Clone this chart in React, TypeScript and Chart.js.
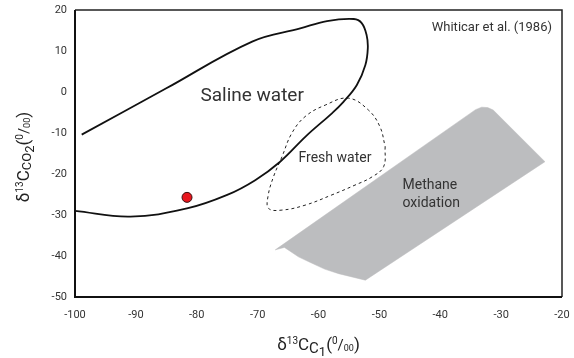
import React, { useEffect, useRef } from "react";
import { Chart, registerables } from "chart.js";

Chart.register(...registerables);

// Saline water envelope (open on the left)
const salineX = [-98.9, -85, -70.9, -63, -58.6, -54.2, -52.9, -52.1, -51.9, -52.3, -53.7, -55.9, -57.8, -62, -66.3, -70.4, -75, -81.6, -90.9, -100];
const salineY = [-10.4, 0.9, 12.3, 15.5, 17.3, 17.8, 16.8, 13.9, 10.7, 6.6, 1.7, -2.4, -5.2, -10.7, -17, -21.5, -25.1, -28.4, -30.4, -29];

// Fresh water envelope (closed, dashed)
const freshX = [-49.05, -49.3, -51.2, -54, -57.8, -62.2, -66, -68.2, -68.3, -67.4, -66, -64.4, -62.2, -58.9, -55.1, -51.8, -49.9, -49.05];
const freshY = [-13.3, -18.2, -20.7, -22.7, -25.1, -27.6, -28.8, -28.4, -25.5, -20.7, -15.8, -10.1, -6, -3.2, -1.5, -4.4, -8.5, -13.3];

// Methane oxidation field (grey polygon)
const methaneX = [-67.1, -65.6, -64.6, -63.3, -61.6, -59, -56.7, -52.3, -22.8, -31.3, -32.2, -33.2, -34.2, -67.1];
const methaneY = [-38.5, -37.9, -38.9, -40.2, -41.4, -43.2, -44.3, -45.9, -17, -4.4, -3.8, -3.7, -4.3, -38.5];

// Sample point
const sampleX = [-81.6];
const sampleY = [-25.7];

const regionLabels = ["Saline water", "Fresh water", "Methane", "oxidation"];
const regionLabelX = [-70.9, -57.3, -46.2, -46.2];
const regionLabelY = [-1.0, -16.1, -22.9, -27.2];
const sourceNote = "Whiticar et al. (1986)";

const xTickMin = -100;
const xTickMax = -20;
const yTickMin = -50;
const yTickMax = 20;
const tickStep = 10;

const zip = (xs: number[], ys: number[]) => xs.map((x, i) => ({ x, y: ys[i] }));

type Seg = { t: string; size: number; dy: number };

const xTitle: Seg[] = [
  { t: "δ", size: 17, dy: 0 },
  { t: "13", size: 10, dy: -6 },
  { t: "C", size: 17, dy: 0 },
  { t: "C", size: 15, dy: 3 },
  { t: "1", size: 13, dy: 6 },
  { t: "(", size: 17, dy: 0 },
  { t: "0", size: 10, dy: -6 },
  { t: "/", size: 15, dy: 0 },
  { t: "00", size: 9, dy: 1 },
  { t: ")", size: 17, dy: 0 },
];

const yTitle: Seg[] = [
  { t: "δ", size: 17, dy: 0 },
  { t: "13", size: 10, dy: -6 },
  { t: "C", size: 17, dy: 0 },
  { t: "CO", size: 13, dy: 2 },
  { t: "2", size: 13, dy: 5 },
  { t: "(", size: 17, dy: 0 },
  { t: "0", size: 10, dy: -6 },
  { t: "/", size: 15, dy: 0 },
  { t: "00", size: 9, dy: 1 },
  { t: ")", size: 17, dy: 0 },
];

const FONT = "Roboto, 'Noto Sans', sans-serif";

function drawRich(ctx: CanvasRenderingContext2D, segs: Seg[], cx: number, baseline: number) {
  let total = 0;
  const widths = segs.map((s) => {
    ctx.font = `${s.size}px ${FONT}`;
    const w = ctx.measureText(s.t).width;
    total += w;
    return w;
  });
  let x = cx - total / 2;
  ctx.textAlign = "left";
  ctx.textBaseline = "alphabetic";
  segs.forEach((s, i) => {
    ctx.font = `${s.size}px ${FONT}`;
    ctx.fillText(s.t, x, baseline + s.dy);
    x += widths[i];
  });
}

const decorPlugin = {
  id: "decor",
  afterDatasetsDraw(chart: any) {
    const ctx = chart.ctx as CanvasRenderingContext2D;
    const xs = chart.scales.x;
    const ys = chart.scales.y;
    const area = chart.chartArea;
    ctx.save();
    ctx.fillStyle = "#333";
    ctx.textBaseline = "middle";
    regionLabels.forEach((label, i) => {
      const px = xs.getPixelForValue(regionLabelX[i]);
      const py = ys.getPixelForValue(regionLabelY[i]);
      if (i === 0) {
        ctx.font = `19px ${FONT}`;
        ctx.textAlign = "center";
      } else if (i === 1) {
        ctx.font = `14px ${FONT}`;
        ctx.textAlign = "center";
      } else {
        ctx.font = `14px ${FONT}`;
        ctx.textAlign = "left";
      }
      ctx.fillText(label, px, py);
    });
    ctx.font = `13px ${FONT}`;
    ctx.textAlign = "right";
    ctx.fillText(sourceNote, area.right - 10, area.top + 18);
    ctx.restore();
  },
  afterDraw(chart: any) {
    const ctx = chart.ctx as CanvasRenderingContext2D;
    const a = chart.chartArea;
    ctx.save();
    ctx.strokeStyle = "#222";
    ctx.lineWidth = 1.5;
    ctx.beginPath();
    ctx.moveTo(a.left, a.top);
    ctx.lineTo(a.right, a.top);
    ctx.lineTo(a.right, a.bottom);
    ctx.stroke();
    ctx.lineWidth = 2;
    ctx.strokeStyle = "#111";
    ctx.beginPath();
    ctx.moveTo(a.left, a.top);
    ctx.lineTo(a.left, a.bottom);
    ctx.lineTo(a.right, a.bottom);
    ctx.stroke();

    ctx.fillStyle = "#222";
    drawRich(ctx, xTitle, (a.left + a.right) / 2, 350);
    ctx.translate(23, 157);
    ctx.rotate(-Math.PI / 2);
    drawRich(ctx, yTitle, 0, 6);
    ctx.restore();
  },
};

export default function App() {
  const ref = useRef<HTMLCanvasElement | null>(null);
  useEffect(() => {
    if (!ref.current) return;
    const chart = new Chart(ref.current, {
      type: "scatter",
      data: {
        datasets: [
          {
            label: "Methane oxidation",
            data: zip(methaneX, methaneY),
            showLine: true,
            fill: "shape",
            backgroundColor: "#bcbdbf",
            borderColor: "#bcbdbf",
            borderWidth: 0.5,
            pointRadius: 0,
            tension: 0,
          } as any,
          {
            label: "Saline water",
            data: zip(salineX, salineY),
            showLine: true,
            borderColor: "#111",
            borderWidth: 1.8,
            pointRadius: 0,
            tension: 0.4,
            fill: false,
          },
          {
            label: "Fresh water",
            data: zip(freshX, freshY),
            showLine: true,
            borderColor: "#222",
            borderWidth: 1,
            borderDash: [3, 3],
            pointRadius: 0,
            tension: 0.4,
            fill: false,
          },
          {
            label: "Sample",
            data: zip(sampleX, sampleY),
            showLine: false,
            pointRadius: 5,
            backgroundColor: "#e8161e",
            borderColor: "#3a1010",
            borderWidth: 1,
          },
        ],
      },
      options: {
        animation: false,
        responsive: false,
        devicePixelRatio: 1,
        layout: { padding: { left: 0, top: 10, right: 12, bottom: 0 } },
        plugins: { legend: { display: false }, tooltip: { enabled: false } },
        scales: {
          x: {
            type: "linear",
            min: xTickMin,
            max: xTickMax,
            grid: { display: false, drawTicks: false },
            border: { display: false },
            ticks: { stepSize: tickStep, padding: 12, color: "#333", font: { family: FONT, size: 11 } },
            afterFit: (s: any) => {
              s.height = 61;
              s.paddingLeft = 0;
              s.paddingRight = 0;
            },
          },
          y: {
            type: "linear",
            min: yTickMin,
            max: yTickMax,
            grid: { display: false, drawTicks: false },
            border: { display: false },
            ticks: { stepSize: tickStep, padding: 8, color: "#333", font: { family: FONT, size: 11 } },
            afterFit: (s: any) => {
              s.width = 75;
              s.paddingTop = 0;
              s.paddingBottom = 0;
            },
          },
        },
      },
      plugins: [decorPlugin],
    });
    return () => chart.destroy();
  }, []);
  return (
    <div style={{ position: "absolute", left: 0, top: 0, width: 574, height: 358, background: "#fff" }}>
      <canvas ref={ref} width={574} height={358} style={{ width: 574, height: 358 }} />
    </div>
  );
}
